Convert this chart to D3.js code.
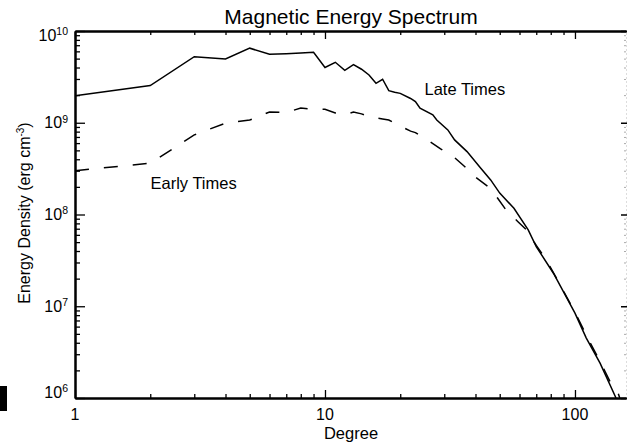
<!DOCTYPE html>
<html>
<head>
<meta charset="utf-8">
<script src="https://cdn.jsdelivr.net/npm/d3@7"></script>
<style>
  body { margin: 0; background: #fff; }
  svg text { font-family: "Liberation Sans", Arial, Helvetica, sans-serif; fill: #000; }
</style>
</head>
<body>
<div id="container"></div>
<script>
const WIDTH = 627;
const HEIGHT = 443;
const LEFT = 75;
const RIGHT = 626;
const TOP = 31;
const BOTTOM = 398;

// late times (solid)
var LATE_DEG = [1, 2, 3, 4, 5, 6, 7, 8, 9, 10, 11, 12, 13, 14, 15, 16, 17, 18, 19, 20,
    22, 23, 24, 27, 28, 31, 33, 37, 42, 46, 50, 57, 65, 70, 82, 100, 111, 126, 145, 150];
var LATE_VAL = [1.97e9, 2.54e9, 5.25e9, 4.95e9, 6.5e9, 5.57e9, 5.65e9, 5.75e9, 5.87e9, 4.0e9,
    4.56e9, 3.73e9, 4.30e9, 3.83e9, 3.32e9, 2.69e9, 2.98e9, 2.24e9, 2.15e9, 2.09e9,
    1.84e9, 1.70e9, 1.44e9, 1.22e9, 1.07e9, 8.35e8, 6.5e8, 4.85e8, 3.19e8, 2.38e8,
    1.71e8, 1.17e8, 6.8e7, 4.47e7, 2.29e7, 8.4e6, 4.5e6, 2.4e6, 1.04e6, 8e5];

// early times (dashed)
var EARLY_DEG = [1, 2, 3, 4, 5, 6, 7, 8, 9, 10, 11, 12, 13, 14, 15, 16, 17, 18, 20, 22,
    23, 26, 29, 33, 36, 40, 45, 49, 53, 59, 64, 70, 76, 85, 100, 112, 128, 140, 149, 153];
var EARLY_VAL = [3.0e8, 3.62e8, 7.37e8, 9.9e8, 1.07e9, 1.31e9, 1.29e9, 1.45e9, 1.40e9, 1.40e9,
    1.28e9, 1.22e9, 1.31e9, 1.25e9, 1.16e9, 1.13e9, 1.10e9, 1.07e9, 9.2e8, 8.1e8,
    7.8e8, 6.34e8, 5.19e8, 4.17e8, 3.38e8, 2.55e8, 2.01e8, 1.51e8, 1.12e8, 8.4e7,
    6.8e7, 4.6e7, 3.35e7, 1.95e7, 8.6e6, 4.6e6, 2.3e6, 1.4e6, 1.12e6, 9e5];

var X_MAJOR = [1, 10, 100];
var X_MINOR = [2, 3, 4, 5, 6, 7, 8, 9, 20, 30, 40, 50, 60, 70, 80, 90, 200];
var Y_EXP = [6, 7, 8, 9, 10];

var XScale = d3.scaleLog().domain([1, 160]).range([LEFT, RIGHT]);
var YScale = d3.scaleLog().domain([1e6, 1e10]).range([BOTTOM, TOP]);

var yMinor = [];
Y_EXP.slice(0, -1).forEach(function (e) {
    for (var k = 2; k <= 9; k++) yMinor.push(k * Math.pow(10, e));
});
var xMinor = X_MINOR.filter(function (v) { return v <= 160; });

var translate = function (x, y) {
    return "translate(" + x + "," + y + ")";
};

var zip = function (xs, ys) {
    return xs.map(function (x, i) { return {x: x, y: ys[i]}; });
};

var styleAxis = function (g, width) {
    g.selectAll("path.domain").attr("stroke-width", width);
    g.selectAll(".tick line").attr("stroke-width", 1.3);
    g.selectAll(".tick text").remove();
};

var svg = d3.select("#container").append("svg")
    .attr("width", WIDTH)
    .attr("height", HEIGHT);

svg.append("defs").append("clipPath").attr("id", "plot")
    .append("rect").attr("x", LEFT).attr("y", TOP)
    .attr("width", RIGHT - LEFT).attr("height", BOTTOM - TOP);

// curves
var line = d3.line()
    .x(function (d) { return XScale(d.x); })
    .y(function (d) { return YScale(d.y); });

var curves = svg.append("g").attr("clip-path", "url(#plot)");
curves.append("path")
    .datum(zip(LATE_DEG, LATE_VAL))
    .attr("d", line)
    .attr("fill", "none")
    .attr("stroke", "#000")
    .attr("stroke-width", 1.5);
curves.append("path")
    .datum(zip(EARLY_DEG, EARLY_VAL))
    .attr("d", line)
    .attr("fill", "none")
    .attr("stroke", "#000")
    .attr("stroke-width", 1.5)
    .attr("stroke-dasharray", "14,15");

// right axis, faint and dotted
var right = svg.append("g").attr("transform", translate(RIGHT, 0));
right.call(d3.axisRight(YScale).tickValues(yMinor).tickSize(-2).tickSizeOuter(0).tickFormat(""));
right.select("path.domain").attr("stroke", "#bbb").attr("stroke-dasharray", "1,3");
right.selectAll(".tick line").attr("stroke", "#aaa");
svg.append("g").attr("transform", translate(RIGHT + 1, 0))
    .call(d3.axisRight(YScale).tickValues(Y_EXP.map(function (e) { return Math.pow(10, e); }))
        .tickSize(-6).tickSizeOuter(0).tickFormat(""))
    .call(function (g) { g.select("path.domain").remove(); g.selectAll(".tick line").attr("stroke-width", 1.5); });

// left axis
var left = svg.append("g").attr("transform", translate(LEFT, 0));
left.append("g")
    .call(d3.axisLeft(YScale).tickValues(yMinor).tickSize(-5).tickSizeOuter(0))
    .call(styleAxis, 2);
left.append("g")
    .call(d3.axisLeft(YScale).tickValues(Y_EXP.map(function (e) { return Math.pow(10, e); }))
        .tickSize(-10).tickSizeOuter(0))
    .call(styleAxis, 2);

// bottom and top axes
[[BOTTOM, d3.axisBottom, 1], [TOP, d3.axisTop, -1]].forEach(function (a) {
    var g = svg.append("g").attr("transform", translate(0, a[0]));
    g.append("g")
        .call(a[1](XScale).tickValues(xMinor).tickSize(-4).tickSizeOuter(0))
        .call(styleAxis, 2);
    g.append("g")
        .call(a[1](XScale).tickValues(X_MAJOR).tickSize(-8).tickSizeOuter(0))
        .call(styleAxis, 2);
});

// y tick labels as powers of ten
var yLabels = svg.append("g").attr("font-size", 16);
Y_EXP.forEach(function (e) {
    var base = Math.min(Math.max(YScale(Math.pow(10, e)) + 5.5, TOP + 9.5), BOTTOM);
    var t = yLabels.append("text")
        .attr("x", LEFT - 7)
        .attr("y", base)
        .attr("text-anchor", "end");
    t.append("tspan").text("10");
    t.append("tspan").attr("font-size", 10.5).attr("dy", -5.7).text(e);
});

// x tick labels
svg.append("g").attr("font-size", 16)
    .selectAll("text").data(X_MAJOR).enter().append("text")
    .attr("x", function (d) { return XScale(d); })
    .attr("y", BOTTOM + 22)
    .attr("text-anchor", "middle")
    .text(function (d) { return d; });

// titles
svg.append("text")
    .attr("x", 351).attr("y", 24)
    .attr("text-anchor", "middle")
    .attr("font-size", 21)
    .text("Magnetic Energy Spectrum");

svg.append("text")
    .attr("x", 351).attr("y", 438.5)
    .attr("text-anchor", "middle")
    .attr("font-size", 16.5)
    .text("Degree");

var yTitle = svg.append("text")
    .attr("transform", translate(29.5, 213) + " rotate(-90)")
    .attr("text-anchor", "middle")
    .attr("font-size", 16);
yTitle.append("tspan").text("Energy Density (erg cm");
yTitle.append("tspan").attr("font-size", 10).attr("dy", -6).text("-3");
yTitle.append("tspan").attr("dy", 6).text(")");

// curve labels
svg.append("text")
    .attr("x", 424.5).attr("y", 95)
    .attr("font-size", 16.5)
    .text("Late Times");
svg.append("text")
    .attr("x", 150.5).attr("y", 188.5)
    .attr("font-size", 16.5)
    .text("Early Times");

// stray black block at the lower left edge
svg.append("rect")
    .attr("x", 0).attr("y", 386)
    .attr("width", 7).attr("height", 25)
    .attr("fill", "#000");
</script>
</body>
</html>
